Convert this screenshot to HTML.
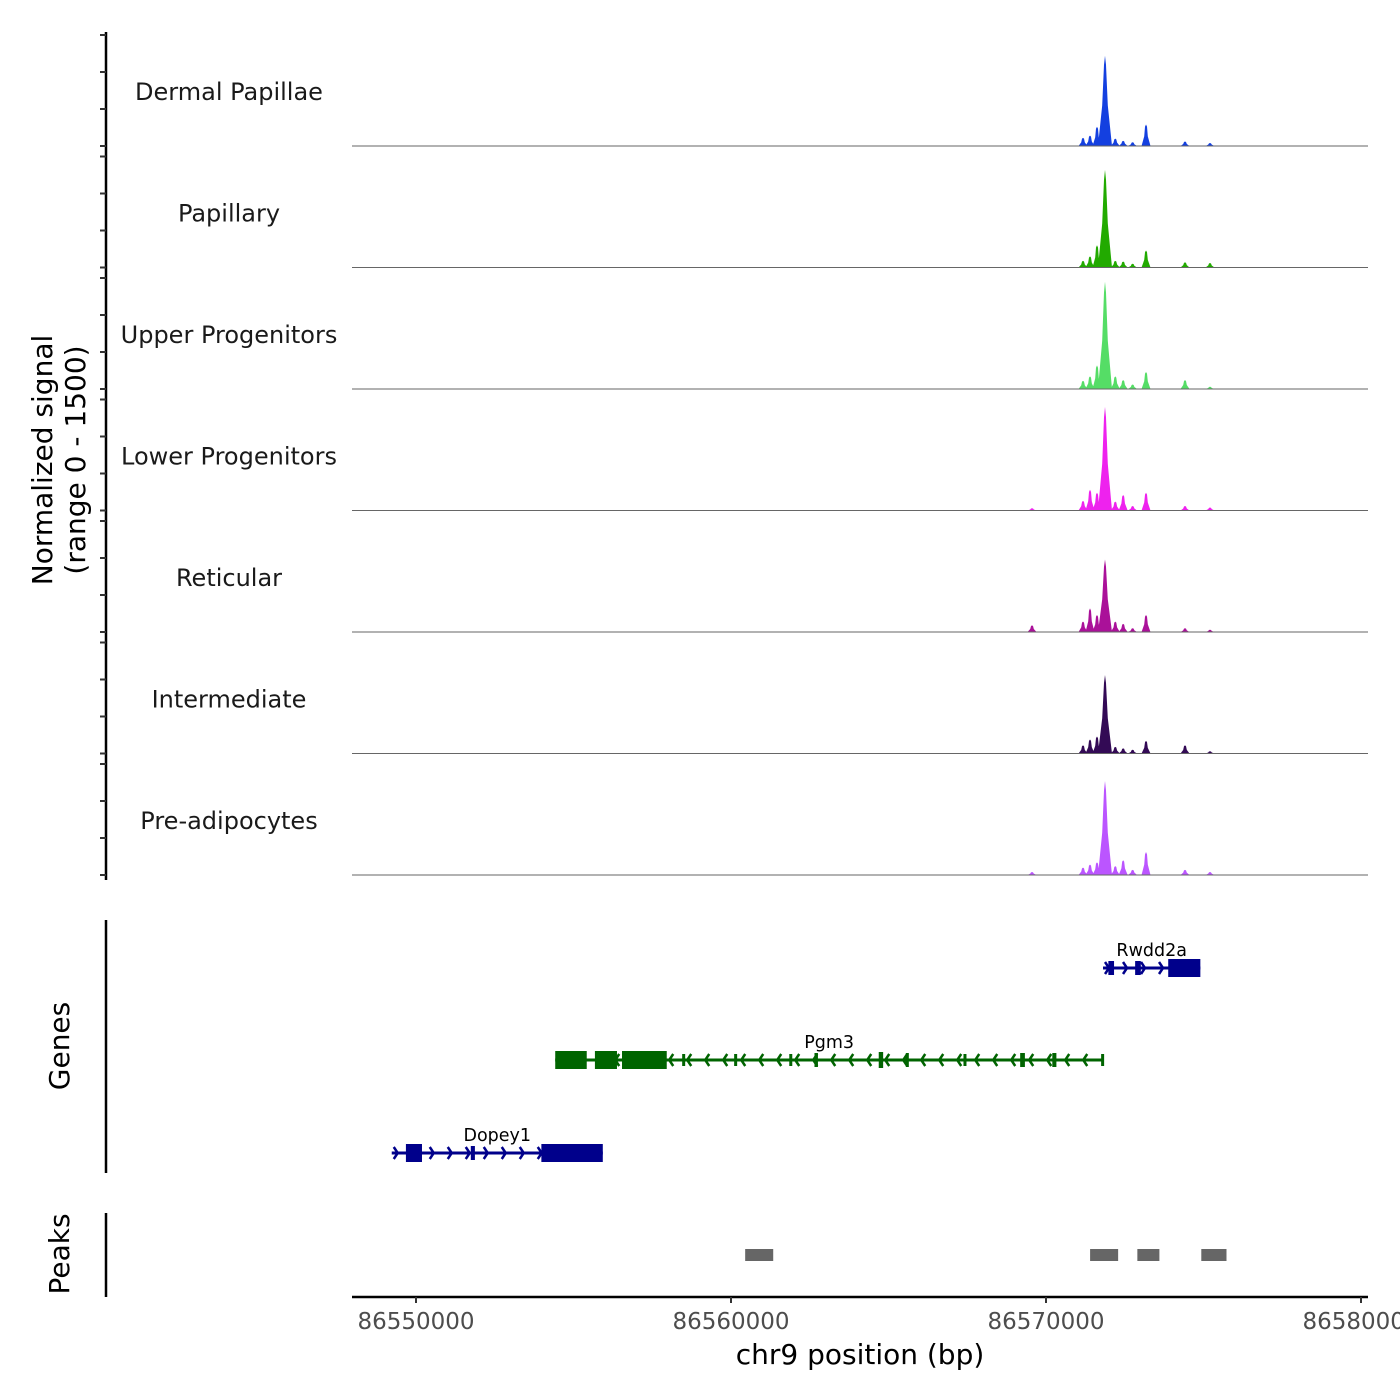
<!DOCTYPE html>
<html><head><meta charset="utf-8"><style>
body{margin:0;background:#fff}
svg{display:block;font-family:"DejaVu Sans","Liberation Sans",sans-serif}
</style></head><body>
<svg id="c" width="1400" height="1400" viewBox="0 0 1400 1400"></svg>
<script>
const trackNames=["Dermal Papillae","Papillary","Upper Progenitors","Lower Progenitors","Reticular","Intermediate","Pre-adipocytes"];
const trackColors=["#1440e0","#22aa00","#55dd66","#ee22ee","#aa1199","#330a55","#bb55ff"];
const peakPos=[86569556,86571175,86571397,86571619,86571873,86572200,86572450,86572750,86573175,86574413,86575206];
const peakHeights=[
 [0,110,140,260,1220,100,70,50,290,60,40],
 [0,90,150,300,1320,90,80,50,230,70,60],
 [0,110,170,320,1450,170,120,60,230,120,30],
 [30,130,280,240,1400,120,210,60,240,60,40],
 [90,140,320,230,980,140,110,50,230,50,30],
 [0,110,190,230,1060,90,70,50,170,110,30],
 [40,100,140,170,1270,120,200,70,310,70,40]];
const yTicks=[0,500,1000,1500];
const xTicks=[86550000,86560000,86570000,86580000];
const genes=[
 {name:"Rwdd2a",color:"#00008b",y:968,start:86571810,end:86574900,strand:1,exons:[[86571980,86572160,14],[86572830,86573010,14],[86573880,86574900,18]]},
 {name:"Pgm3",color:"#006400",y:1060,start:86554420,end:86571810,strand:-1,exons:[[86554420,86555420,18],[86555680,86556380,18],[86556540,86557960,18],[86558450,86558510,12],[86560100,86560150,12],[86561850,86561900,12],[86562650,86562760,14],[86564690,86564830,16],[86565550,86565620,14],[86567380,86567420,12],[86569180,86569330,14],[86570200,86570330,14],[86571750,86571810,12]]},
 {name:"Dopey1",color:"#00008b",y:1153,start:86549230,end:86555930,strand:1,exons:[[86549680,86550190,18],[86551740,86551870,14],[86553980,86555930,18]]}];
const peakRegions=[[86560450,86561340],[86571400,86572290],[86572900,86573600],[86574930,86575730]];

const NS="http://www.w3.org/2000/svg",svg=document.getElementById("c");
const X=bp=>416+(bp-86550000)*315/10000;
const base0=146,trackH=121.5,scaleY=111/1500;
function el(t,a,txt,p){const e=document.createElementNS(NS,t);for(const k in a)e.setAttribute(k,a[k]);if(txt!=null)e.textContent=txt;(p||svg).appendChild(e);return e;}

let ax=el("line",{x1:106,y1:32,x2:106,y2:880,stroke:"#000","stroke-width":2.5});



trackNames.forEach((n,i)=>{
 const b=base0+i*trackH;
 let g=el("g",{});
 
 
 yTicks.forEach(v=>{let t=el("line",{x1:100,y1:b-v*scaleY,x2:106,y2:b-v*scaleY,stroke:"#333","stroke-width":2},null,g);});
 let d="M352,"+b;
 const hs=peakHeights[i];
 peakPos.forEach((p,j)=>{if(!hs[j])return;const cx=X(p),w=hs[j]>500?7:4.5,h=hs[j]*scaleY;d+=` L${cx-w},${b} L${cx-w*0.4},${b-h*0.45} L${cx-1},${b-h*0.9} L${cx},${b-h} L${cx+1},${b-h*0.9} L${cx+w*0.4},${b-h*0.45} L${cx+w},${b}`;});
 d+=" L1368,"+b+" Z";
 let a=el("path",{d:d,fill:trackColors[i]},null,g);
 
 
 el("line",{x1:352,y1:b,x2:1368,y2:b,stroke:"#666","stroke-width":1},null,g);
 let l=el("text",{x:229,y:b-46,"text-anchor":"middle","font-size":24,fill:"#1a1a1a"},n,g);
 
 
});
let yt=el("text",{transform:"translate(52,460) rotate(-90)","text-anchor":"middle","font-size":28},"Normalized signal");

let yt2=el("text",{transform:"translate(85,460) rotate(-90)","text-anchor":"middle","font-size":28},"(range 0 - 1500)");


let ga=el("line",{x1:106,y1:920,x2:106,y2:1173,stroke:"#000","stroke-width":2.5});

let gt=el("text",{transform:"translate(69,1046) rotate(-90)","text-anchor":"middle","font-size":28},"Genes");

genes.forEach(gn=>{
 let g=el("g",{});
 
 
 const x1=X(gn.start),x2=X(gn.end),y=gn.y;
 el("line",{x1:x1,y1:y,x2:x2,y2:y,stroke:gn.color,"stroke-width":3},null,g);
 for(let x=x1+6;x<x2-4;x+=18){const s=gn.strand;el("polyline",{points:`${x-4*s},${y-6} ${x},${y} ${x-4*s},${y+6}`,fill:"none",stroke:gn.color,"stroke-width":2.5},null,g);}
 gn.exons.forEach(e=>{const a=X(e[0]),bb=X(e[1]);el("rect",{x:a,y:y-e[2]/2,width:Math.max(bb-a,3),height:e[2],fill:gn.color},null,g);});
 let t=el("text",{x:(x1+x2)/2,y:y-12,"text-anchor":"middle","font-size":17.5},gn.name,g);
 
});

let pa=el("line",{x1:106,y1:1213,x2:106,y2:1297,stroke:"#000","stroke-width":2.5});

let pt=el("text",{transform:"translate(69,1254) rotate(-90)","text-anchor":"middle","font-size":28},"Peaks");

peakRegions.forEach(r=>{let e=el("rect",{x:X(r[0]),y:1249,width:X(r[1])-X(r[0]),height:12,fill:"#666"});});

let xa=el("line",{x1:352,y1:1297,x2:1368,y2:1297,stroke:"#000","stroke-width":2.5});

xTicks.forEach(t=>{const x=X(t);el("line",{x1:x,y1:1297,x2:x,y2:1303,stroke:"#333","stroke-width":2});
 let l=el("text",{x:x,y:1329,"text-anchor":"middle","font-size":23,fill:"#4d4d4d"},String(t));
 });
let xt=el("text",{x:860,y:1364,"text-anchor":"middle","font-size":28},"chr9 position (bp)");

</script>
</body></html>
